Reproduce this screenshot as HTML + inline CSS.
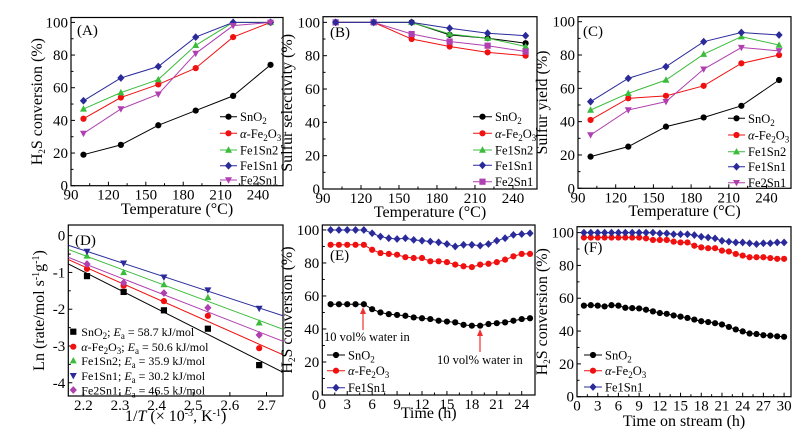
<!DOCTYPE html>
<html><head><meta charset="utf-8">
<style>
html,body{margin:0;padding:0;background:#fff;}
svg{display:block;}
svg text{font-family:"Liberation Serif","DejaVu Serif",serif;}
</style></head>
<body>
<svg id="fig" width="806" height="435" viewBox="0 0 806 435" xmlns="http://www.w3.org/2000/svg" font-family="Liberation Serif, serif"></svg>
<script>
// ---- data ----
const tempX = [100,130,160,190,220,250];
const aSnO2 = [19,25,37,46,55,74];
const aFe2O3 = [41,54,62,72,91,100];
const aFe1Sn2 = [47,57,65,86,100,100];
const aFe1Sn1 = [52,66,73,91,100,100];
const aFe2Sn1 = [32,47,56,81,98,100];
const bSnO2 = [100,100,100,92.5,90.5,87.5];
const bFe2O3 = [100,100,90,85.5,82,80];
const bFe1Sn2 = [100,100,100,93,90.5,85.5];
const bFe1Sn1 = [100,100,100,96.5,93.5,92];
const bFe2Sn1 = [100,100,93,88.5,86,82.5];
const cSnO2 = [19,25,37,42.5,49.5,65];
const cFe2O3 = [41,54,55.5,61.5,75,80];
const cFe1Sn2 = [47,57,65,80.5,91,86];
const cFe1Sn1 = [52,66,73,88,93.5,92];
const cFe2Sn1 = [32,47,52,71.5,84.5,82.5];
const invT = [2.21,2.31,2.42,2.54,2.68];
const dSnO2 = [-1.1,-1.53,-2.03,-2.53,-3.52];
const dFe2O3 = [-0.9,-1.36,-1.78,-2.18,-3.06];
const dFe1Sn2 = [-0.55,-1.0,-1.33,-1.68,-2.37];
const dFe1Sn1 = [-0.43,-0.75,-1.13,-1.48,-1.98];
const dFe2Sn1 = [-0.77,-1.28,-1.56,-1.96,-2.7];
const eTime = [1,2,3,4,5,6,7,8,9,10,11,12,13,14,15,16,17,18,19,20,21,22,23,24,25];
const eFe1Sn1 = [100,100,100,100,100,98,96,95,94.5,95,94,93.5,93,92.5,91.5,90,91,91,90.5,91.5,93.5,95,97,97.5,98];
const eFe2O3 = [91,91,91,91,91,88,86,85.5,85,83.5,83,83,81,81,80.5,79,78,77.5,79,79.5,80.5,82,84,85.5,85.5];
const eSnO2 = [55,55,55,55,55,52,50,49,48.5,48,47,46.5,46,45,44.5,44,42.5,42,42,43,43.5,44,45,46,46.5];
const fTime = [1,2,3,4,5,6,7,8,9,10,11,12,13,14,15,16,17,18,19,20,21,22,23,24,25,26,27,28,29,30];
const fFe1Sn1 = [100,100,100,100,100,100,100,100,100,100,100,99.5,99.5,99,99,99,98.5,97.5,97,96.5,95,94.5,94,94,93.5,93,93.5,93.5,94,94];
const fFe2O3 = [97,97,97,97,97,97,97,97,97,96.5,95.5,95.5,95.5,94.5,94,94,92,91,90.5,90.5,89,88.5,87,86,85,85,85,84.5,84,84];
const fSnO2 = [55.5,55.8,55.5,55,55.8,55.5,54.2,54,53.8,53,52,51,50.5,49.5,48.8,48,47,46,45.5,44.8,44,42.5,41,39.8,38.5,38.2,37.5,37.2,36.8,36.5];
const tempTicks = [90,120,150,180,210,240];
const pctTicks = [0,20,40,60,80,100];
const dXTicks = [2.2,2.3,2.4,2.5,2.6,2.7];
const dYTicks = [0,-1,-2,-3,-4];
const eXTicks = [0,3,6,9,12,15,18,21,24];
const fXTicks = [0,3,6,9,12,15,18,21,24,27,30];

const C = {k:'#000',r:'#f01010',g:'#3cbc3c',b:'#2a2a9a',m:'#b040b0'};
const NS='http://www.w3.org/2000/svg';
const svg=document.getElementById('fig');
function el(tag,attrs,parent){const e=document.createElementNS(NS,tag);for(const k in attrs)e.setAttribute(k,attrs[k]);if(tag==='text')e.setAttribute('font-family','Liberation Serif, serif');(parent||svg).appendChild(e);return e;}

function marker(g,shape,x,y,col){
  const s=3.1;let m;
  if(shape==='c') m=el('circle',{cx:x,cy:y,r:s,fill:col},g);
  else if(shape==='s') m=el('rect',{x:x-s,y:y-s,width:2*s,height:2*s,fill:col},g);
  else if(shape==='u') m=el('polygon',{points:`${x},${y-s-0.6} ${x-s-0.4},${y+s-0.4} ${x+s+0.4},${y+s-0.4}`,fill:col},g);
  else if(shape==='d') m=el('polygon',{points:`${x},${y+s+0.6} ${x-s-0.4},${y-s+0.4} ${x+s+0.4},${y-s+0.4}`,fill:col},g);
  else m=el('polygon',{points:`${x},${y-s-0.8} ${x+s+0.5},${y} ${x},${y+s+0.8} ${x-s-0.5},${y}`,fill:col},g);
  
  
  return m;
}

function panel(p){
  const g=el('g',{});
  
  
  const sx=v=>p.l+(v-p.x0)/(p.x1-p.x0)*(p.r-p.l);
  const sy=v=>p.b-(v-p.y0)/(p.y1-p.y0)*(p.b-p.t);
  p.sx=sx;p.sy=sy;
  const fr=el('rect',{x:p.l,y:p.t,width:p.r-p.l,height:p.b-p.t,fill:'none',stroke:'#000','stroke-width':1.2},g);
  
  p.xt.forEach((v,i)=>{
    const x=sx(v);
    el('line',{x1:x,x2:x,y1:p.b,y2:p.b-4,stroke:'#000','stroke-width':1},g);
    if(i<p.xt.length-1&&p.xminor){const xm=sx(v+(p.xt[1]-p.xt[0])/2);if(xm<p.r)el('line',{x1:xm,x2:xm,y1:p.b,y2:p.b-2.5,stroke:'#000'},g);}
    const t=el('text',{x:x,y:p.b+14,'font-size':15,'text-anchor':'middle'},g);
    t.textContent=p.xfmt?p.xfmt(v):v;
    
  });
  p.yt.forEach((v,i)=>{
    const y=sy(v);
    el('line',{x1:p.l,x2:p.l+4,y1:y,y2:y,stroke:'#000'},g);
    if(i<p.yt.length-1){const ym=sy(v+(p.yt[1]-p.yt[0])/2);el('line',{x1:p.l,x2:p.l+2.5,y1:ym,y2:ym,stroke:'#000'},g);}
    const t=el('text',{x:p.l-3,y:y+5,'font-size':15,'text-anchor':'end'},g);
    t.textContent=p.yfmt?p.yfmt(v):v;
    
  });
  const xl=el('text',{x:(p.l+p.r)/2,y:p.xly,'font-size':16,'text-anchor':'middle'},g);
  xl.innerHTML=p.xlab;
  const yl=el('text',{x:0,y:0,'font-size':16,'text-anchor':'middle',transform:`translate(${p.ylx},${(p.t+p.b)/2}) rotate(-90)`},g);
  yl.innerHTML=p.ylab;
  const pl=el('text',{x:p.lab[1],y:p.lab[2],'font-size':15},g);
  pl.textContent=p.lab[0];
  return g;
}

function series(p,g,xs,ys,col,shape,line,name){
  const sg=el('g',{},g);
  
  
  if(line){
    const pts=xs.map((x,i)=>p.sx(x)+','+p.sy(ys[i])).join(' ');
    el('polyline',{points:pts,fill:'none',stroke:col,'stroke-width':1},sg);
  }
  xs.forEach((x,i)=>marker(sg,shape,p.sx(x),p.sy(ys[i]),col));
}

function legend(g,x,ys,items,lineLen,fs){
  items.forEach((it,i)=>{
    const lg=el('g',{},g);
    
    
    if(lineLen>0){
      el('line',{x1:x,x2:x+lineLen,y1:ys[i],y2:ys[i],stroke:it.c,'stroke-width':1},lg);
      marker(lg,it.s,x+lineLen/2,ys[i],it.c);
    } else marker(lg,it.s,x,ys[i],it.c);
    const t=el('text',{x:x+(lineLen>0?lineLen+3:8),y:ys[i]+4.5,'font-size':fs},lg);
    t.innerHTML=it.t;
  });
}
const sub=s=>`<tspan dy="3" font-size="9">${s}</tspan><tspan dy="-3">\u200B</tspan>`;
const sup=s=>`<tspan dy="-5" font-size="10">${s}</tspan><tspan dy="5">\u200B</tspan>`;
const LSnO2='SnO'+sub('2'), LFe='<tspan font-style="italic">α</tspan>-Fe'+sub('2')+'O'+sub('3');
const stdItems=[{t:LSnO2,c:C.k,s:'c'},{t:LFe,c:C.r,s:'c'},{t:'Fe1Sn2',c:C.g,s:'u'},{t:'Fe1Sn1',c:C.b,s:'h'}];

const pA={name:'panel-a',l:71,r:283,t:17.5,b:185.7,x0:90,x1:260,y0:0,y1:103,xt:tempTicks,yt:pctTicks,xminor:true,xly:214,ylx:42,
  xlab:'Temperature (°C)',ylab:'H'+sub('2')+'S conversion (%)',lab:['(A)',77,35]};
const gA=panel(pA);
series(pA,gA,tempX,aSnO2,C.k,'c',true,'series-sno2');
series(pA,gA,tempX,aFe2O3,C.r,'c',true,'series-fe2o3');
series(pA,gA,tempX,aFe1Sn2,C.g,'u',true,'series-fe1sn2');
series(pA,gA,tempX,aFe1Sn1,C.b,'h',true,'series-fe1sn1');
series(pA,gA,tempX,aFe2Sn1,C.m,'d',true,'series-fe2sn1');
legend(gA,220,[116.7,133.3,150,165.7,180],stdItems.concat([{t:'Fe2Sn1',c:C.m,s:'d'}]),17,12.5);

const pB={name:'panel-b',l:323,r:537,t:16.7,b:189,x0:90,x1:259,y0:0,y1:103.4,xt:tempTicks,yt:pctTicks,xminor:true,xly:217,ylx:292,
  xlab:'Temperature (°C)',ylab:'Sulfur selectivity (%)',lab:['(B)',330,37]};
const gB=panel(pB);
series(pB,gB,tempX,bSnO2,C.k,'c',true,'series-sno2');
series(pB,gB,tempX,bFe2O3,C.r,'c',true,'series-fe2o3');
series(pB,gB,tempX,bFe1Sn2,C.g,'u',true,'series-fe1sn2');
series(pB,gB,tempX,bFe2Sn1,C.m,'s',true,'series-fe2sn1');
series(pB,gB,tempX,bFe1Sn1,C.b,'h',true,'series-fe1sn1');
legend(gB,473,[116.7,133.3,150,165.3,181.7],stdItems.concat([{t:'Fe2Sn1',c:C.m,s:'s'}]),19,12.5);

const pC={name:'panel-c',l:578,r:791,t:16.7,b:188.3,x0:90,x1:259.5,y0:0,y1:103,xt:tempTicks,yt:pctTicks,xminor:true,xly:216,ylx:547,
  xlab:'Temperature (°C)',ylab:'Sulfur yield (%)',lab:['(C)',583,36]};
const gC=panel(pC);
series(pC,gC,tempX,cSnO2,C.k,'c',true,'series-sno2');
series(pC,gC,tempX,cFe2O3,C.r,'c',true,'series-fe2o3');
series(pC,gC,tempX,cFe1Sn2,C.g,'u',true,'series-fe1sn2');
series(pC,gC,tempX,cFe1Sn1,C.b,'h',true,'series-fe1sn1');
series(pC,gC,tempX,cFe2Sn1,C.m,'d',true,'series-fe2sn1');
legend(gC,728,[118.3,135,151.7,166.7,182.7],stdItems.concat([{t:'Fe2Sn1',c:C.m,s:'d'}]),17,12.5);

const pD={name:'panel-d',l:68.3,r:283,t:225,b:396,x0:2.159,x1:2.745,y0:-4.36,y1:0.29,xt:dXTicks,yt:dYTicks,xminor:false,xly:421,ylx:44,
  xfmt:v=>v.toFixed(1),
  xlab:'1/<tspan font-style="italic">T</tspan> (× 10'+sup('-3')+', K'+sup('-1')+')',
  ylab:'Ln (rate/mol s'+sup('-1')+'g'+sup('-1')+')',lab:['(D)',75,245]};
const gD=panel(pD);
function fitLine(p,g,xs,ys,col){
  const n=xs.length,mx=xs.reduce((a,b)=>a+b)/n,my=ys.reduce((a,b)=>a+b)/n;
  let sxy=0,sxx=0;xs.forEach((x,i)=>{sxy+=(x-mx)*(ys[i]-my);sxx+=(x-mx)*(x-mx);});
  const k=sxy/sxx,b0=my-k*mx;
  const xa=p.x0,xb=p.x1;
  const l=el('line',{x1:p.sx(xa),y1:p.sy(k*xa+b0),x2:p.sx(xb),y2:p.sy(k*xb+b0),stroke:col,'stroke-width':1},g);
  
  
}
const cp=el('clipPath',{id:'clipD'});el('rect',{x:pD.l,y:pD.t,width:pD.r-pD.l,height:pD.b-pD.t},cp);
const gDl=el('g',{'clip-path':'url(#clipD)'},gD);
[[dSnO2,C.k,'s','series-sno2'],[dFe2O3,C.r,'c','series-fe2o3'],[dFe1Sn2,C.g,'u','series-fe1sn2'],[dFe1Sn1,C.b,'d','series-fe1sn1'],[dFe2Sn1,C.m,'h','series-fe2sn1']].forEach(a=>{
  fitLine(pD,gDl,invT,a[0],a[1]);series(pD,gD,invT,a[0],a[1],a[2],false,a[3]);
});
const Ea='<tspan font-style="italic">E</tspan>'+sub('a');
legend(gD,73.3,[331.7,346.7,360.7,375.7,390],[
  {t:LSnO2+'; '+Ea+' = 58.7 kJ/mol',c:C.k,s:'s'},
  {t:LFe+'; '+Ea+' = 50.6 kJ/mol',c:C.r,s:'c'},
  {t:'Fe1Sn2; '+Ea+' = 35.9 kJ/mol',c:C.g,s:'u'},
  {t:'Fe1Sn1; '+Ea+' = 30.2 kJ/mol',c:C.b,s:'d'},
  {t:'Fe2Sn1; '+Ea+' = 46.5 kJ/mol',c:C.m,s:'h'}],0,12);

const pE={name:'panel-e',l:322.3,r:535,t:225,b:395,x0:0,x1:25.6,y0:0,y1:103,xt:eXTicks,yt:pctTicks,xminor:true,xly:418,ylx:292,
  xlab:'Time (h)',ylab:'H'+sub('2')+'S conversion (%)',lab:['(E)',330,260]};
const gE=panel(pE);
series(pE,gE,eTime,eSnO2,C.k,'c',true,'series-sno2');
series(pE,gE,eTime,eFe2O3,C.r,'c',true,'series-fe2o3');
series(pE,gE,eTime,eFe1Sn1,C.b,'h',true,'series-fe1sn1');
legend(gE,327,[355,370.7,387.7],[{t:LSnO2,c:C.k,s:'c'},{t:LFe,c:C.r,s:'c'},{t:'Fe1Sn1',c:C.b,s:'h'}],18,12.5);
function annot(g,tx,ty,ax,ay1,ay2){
  const a=el('g',{},g);
  el('line',{x1:ax,x2:ax,y1:ay1,y2:ay2+3,stroke:'#f03030','stroke-width':1.2},a);
  el('polygon',{points:`${ax},${ay2} ${ax-3},${ay2+7} ${ax+3},${ay2+7}`,fill:'#f03030'},a);
  const t=el('text',{x:tx,y:ty,'font-size':12.5},a);t.textContent='10 vol% water in';
}
annot(gE,324,341,363,330,307);
annot(gE,437,364,480,352,329);

const pF={name:'panel-f',l:577,r:791,t:226.7,b:396.7,x0:0,x1:31,y0:0,y1:103.6,xt:fXTicks,yt:pctTicks,xminor:true,xly:426,ylx:547,
  xlab:'Time on stream (h)',ylab:'H'+sub('2')+'S conversion (%)',lab:['(F)',584,252]};
const gF=panel(pF);
series(pF,gF,fTime,fSnO2,C.k,'c',true,'series-sno2');
series(pF,gF,fTime,fFe2O3,C.r,'c',true,'series-fe2o3');
series(pF,gF,fTime,fFe1Sn1,C.b,'h',true,'series-fe1sn1');
legend(gF,584,[355,370.7,387],[{t:LSnO2,c:C.k,s:'c'},{t:LFe,c:C.r,s:'c'},{t:'Fe1Sn1',c:C.b,s:'h'}],18,12.5);
</script>
</body></html>
